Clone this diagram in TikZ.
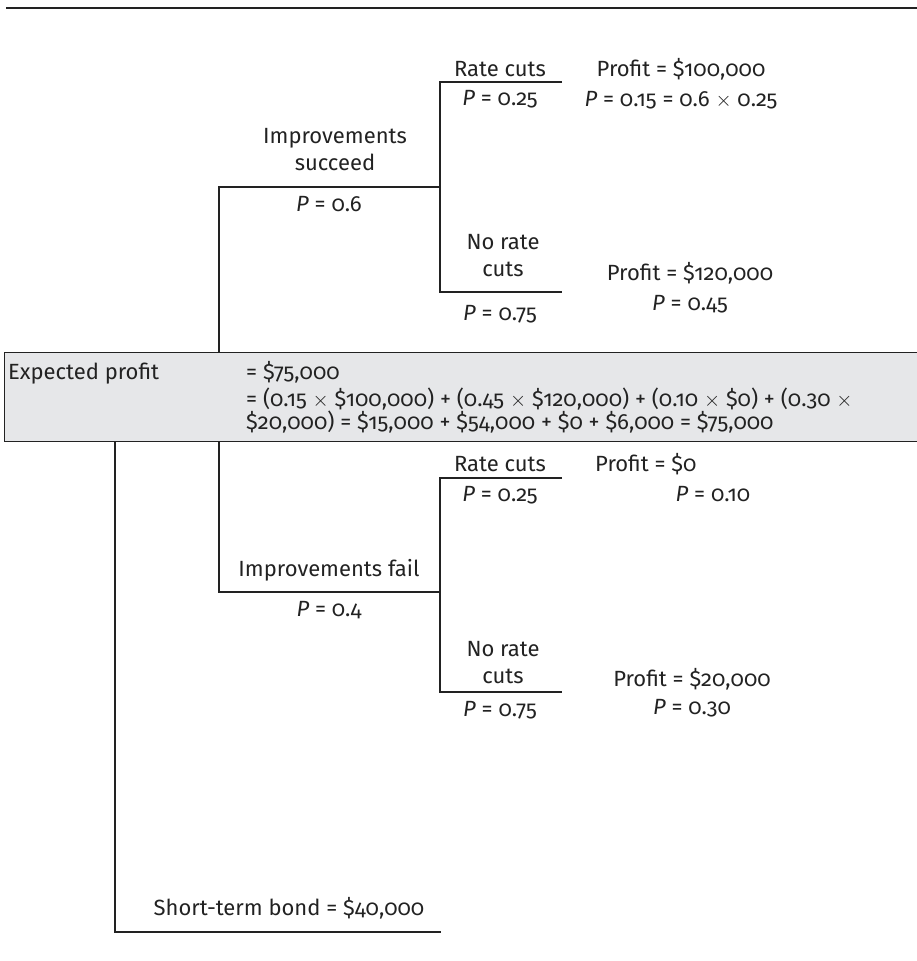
\documentclass[tikz,border=0pt]{standalone}
\usepackage{fontspec}
\setmainfont[Numbers=OldStyle]{Fira Sans}
\definecolor{boxgray}{HTML}{E6E7E9}
\definecolor{ink}{HTML}{222222}
\newcommand{\tms}{\ensuremath{\times}}
\begin{document}
\begin{tikzpicture}[x=1pt,y=-1pt,
  lbl/.style={inner sep=0pt, anchor=base, text=ink, font=\fontsize{22}{26.5}\selectfont, align=center},
  lbll/.style={lbl, anchor=base west, align=left},
  tree/.style={draw=ink, line width=1.1pt}]
\useasboundingbox (0,0) rectangle (917,961);
\draw[draw=ink, line width=2pt] (6,8) -- (917,8);
% summary box
\node (box) [draw=ink, line width=1.1pt, fill=boxgray, anchor=north west, minimum width=913pt, minimum height=89pt, inner sep=0pt] at (4,352) {};
\node (ep) [lbll] at (8,379) {Expected profit};
\node (ev) [lbll] at (246,379) {= \$75,000};
\node (calc) [lbll, font=\fontsize{22}{23}\selectfont] at (246,429) {= (0.15 \tms\ \$100,000) + (0.45 \tms\ \$120,000) + (0.10 \tms\ \$0) + (0.30 \tms\\ \$20,000) = \$15,000 + \$54,000 + \$0 + \$6,000 = \$75,000};
% junction coordinates
\coordinate (sTop) at (219,352);
\coordinate (sMid) at (219,187);
\coordinate (sEnd) at (440,187);
\coordinate (rcA) at (440,82);
\coordinate (rcB) at (562,82);
\coordinate (nrA) at (440,292);
\coordinate (nrB) at (562,292);
\coordinate (fTop) at (219,441);
\coordinate (fMid) at (219,592);
\coordinate (fEnd) at (440,592);
\coordinate (frcA) at (440,478);
\coordinate (frcB) at (562,478);
\coordinate (fnrA) at (440,692);
\coordinate (fnrB) at (562,692);
\coordinate (bTop) at (115,441);
\coordinate (bMid) at (115,932);
\coordinate (bEnd) at (441,932);
% upper branch
\draw[tree] (sTop) -- (sMid) -- (sEnd);
\draw[tree] (rcB) -- (rcA) -- (nrA) -- (nrB);
% lower branch
\draw[tree] (fTop) -- (fMid) -- (fEnd);
\draw[tree] (frcB) -- (frcA) -- (fnrA) -- (fnrB);
% bond
\draw[tree] (bTop) -- (bMid) -- (bEnd);
% upper labels
\node (u1) [lbl] at (500,76) {Rate cuts};
\node (u2) [lbl] at (500,105) {\textit{P} = 0.25};
\node (u3) [lbl] at (681,76) {Profit = \$100,000};
\node (u4) [lbl] at (681,106) {\textit{P} = 0.15 = 0.6 \tms\ 0.25};
\node (u5) [lbl] at (335,170) {Improvements\\succeed};
\node (u6) [lbl] at (329,211) {\textit{P} = 0.6};
\node (u7) [lbl] at (503,276) {No rate\\cuts};
\node (u8) [lbl] at (500,320) {\textit{P} = 0.75};
\node (u9) [lbl] at (690,280) {Profit = \$120,000};
\node (u10) [lbl] at (690,310) {\textit{P} = 0.45};
% lower labels
\node (l1) [lbl] at (500,471) {Rate cuts};
\node (l2) [lbl] at (500,501) {\textit{P} = 0.25};
\node (l3) [lbll] at (595,471) {Profit = \$0};
\node (l4) [lbl] at (713,501) {\textit{P} = 0.10};
\node (l5) [lbl] at (329,576) {Improvements fail};
\node (l6) [lbl] at (329,616) {\textit{P} = 0.4};
\node (l7) [lbl] at (503,683) {No rate\\cuts};
\node (l8) [lbl] at (500,716) {\textit{P} = 0.75};
\node (l9) [lbl] at (692,686) {Profit = \$20,000};
\node (l10) [lbl] at (692,714) {\textit{P} = 0.30};
\node (bond) [lbl] at (289,915) {Short-term bond = \$40,000};
\end{tikzpicture}
\end{document}
